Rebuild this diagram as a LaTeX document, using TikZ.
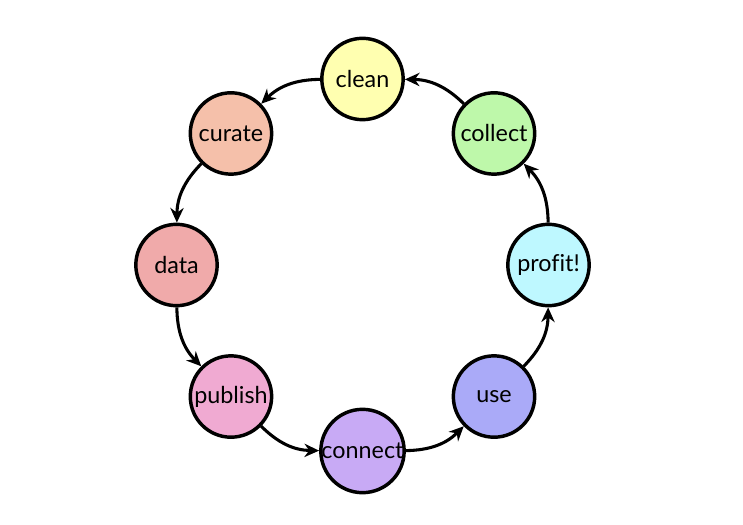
\documentclass[tikz,border=0pt]{standalone}
\usepackage{fontspec}
\setmainfont{Lato}[Ligatures=NoCommon]
\usepackage{xcolor}
\usetikzlibrary{arrows.meta}

\definecolor{cleancol}{HTML}{FFFFB0}
\definecolor{curatecol}{HTML}{F5C0AA}
\definecolor{datacol}{HTML}{F0AAAA}
\definecolor{publishcol}{HTML}{F0AAD2}
\definecolor{connectcol}{HTML}{C8AAF5}
\definecolor{usecol}{HTML}{AAAAF8}
\definecolor{profitcol}{HTML}{BEF8FF}
\definecolor{collectcol}{HTML}{BEF8AA}

\begin{document}
\begin{tikzpicture}[x=0.75pt,y=0.75pt,
    stage/.style={circle,draw=black,line width=2.6pt,minimum size=61pt,inner sep=0pt,
      font=\fontsize{17.5}{20}\selectfont},
    flow/.style={line width=2.3pt,-{Stealth[length=11pt,width=10pt]}}]
    \useasboundingbox (-362.5,-260) rectangle (380.5,265);

    \foreach \name/\ang/\txt in {clean/90/clean,curate/135/curate,data/180/data,
      publish/225/publish,connect/270/connect,use/315/use,profit/0/profit!,collect/45/collect} {
      \node[stage,fill=\name col] (\name) at (\ang:186) {\txt};
    }

    \foreach \a/\b in {clean/curate,curate/data,data/publish,publish/connect,
      connect/use,use/profit,profit/collect,collect/clean} {
      \draw[flow] (\a) to[bend right=22] (\b);
    }
  \end{tikzpicture}
\end{document}
